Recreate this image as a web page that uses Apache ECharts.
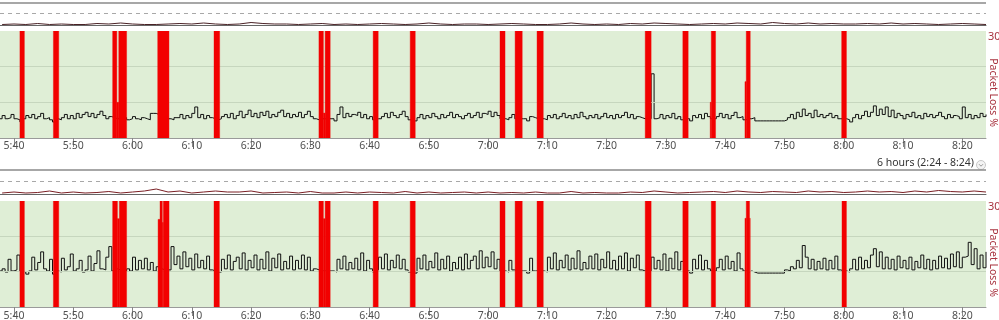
<!DOCTYPE html>
<html>
<head>
<meta charset="utf-8">
<script src="https://cdn.jsdelivr.net/npm/echarts@6/dist/echarts.min.js"></script>
<style>
html,body{margin:0;padding:0;background:#fff;}
#c{width:999px;height:320px;}
</style>
</head>
<body>
<div id="c"></div>
<script>
// ---- time axis (minutes since midnight) ----
const X_MIN = 337.64;   // left edge (~5:37.6)
const X_MAX = 504;      // 8:24
const tickMinutes = [340,350,360,370,380,390,400,410,420,430,440,450,460,470,480,490,500];
const rangeText = '6 hours (2:24 - 8:24)';
const lossAxisTitle = 'Packet Loss %';

// ---- latency samples (every 0.5 min from 5:37.5), arbitrary ms scale 0-100 ----
const LAT_START = 337.5;
const LAT_STEP = 0.5;
const latencyTop = [
 18,21,18,19,22,18,17,15,18,21,19,22,18,20,23,18,19,17,15,18,
 17,19,22,18,21,18,23,19,22,24,20,23,19,22,25,21,18,20,19,18,
 18,18,19,17,18,20,18,17,19,18,17,23,23,22,18,18,18,18,17,19,
 19,22,18,21,19,23,29,19,22,18,21,19,18,17,18,20,22,19,23,18,
 21,25,19,22,26,20,23,19,24,21,25,19,22,20,24,26,20,23,19,22,
 20,24,19,22,25,20,18,17,18,18,18,18,18,16,22,29,19,23,20,22,
 21,24,19,22,18,20,17,18,18,20,23,19,24,21,19,22,25,20,17,18,
 16,19,22,18,21,19,23,20,18,22,19,21,24,19,22,20,18,21,23,19,
 21,24,19,23,22,25,20,24,21,18,18,17,19,22,18,18,18,18,16,20,
 19,18,18,18,17,21,19,22,18,20,23,19,21,18,22,19,24,20,18,21,
 19,22,18,20,23,19,21,18,22,19,21,24,19,22,18,20,19,18,18,18,
 60,18,19,22,18,21,19,23,18,20,17,18,18,16,21,19,22,18,23,20,
 18,18,20,23,19,22,18,21,24,19,20,17,18,18,19,16,16,16,16,16,
 16,16,16,16,16,17,19,22,18,24,20,27,21,23,19,26,20,22,19,21,
 23,19,21,18,18,18,17,15,19,22,18,21,25,20,24,30,21,27,22,29,
 20,26,19,23,21,18,22,20,24,19,21,18,23,20,22,19,21,24,20,18,
 22,19,21,20,18,29,19,22,18,21,19,23,20,22
];
const latencyBottom = [
 34,36,33,45,34,35,49,34,33,31,34,47,35,42,52,36,34,45,31,34,
 33,46,35,38,50,34,36,44,33,35,48,34,41,53,36,35,47,57,34,36,
 35,34,34,36,34,47,35,44,36,46,35,42,34,38,36,35,35,35,57,40,
 48,36,52,38,46,35,50,37,44,36,48,35,34,36,33,45,36,49,35,43,
 47,36,51,35,44,37,49,35,45,36,52,34,46,37,50,35,43,36,48,35,
 44,36,49,35,47,34,36,35,34,34,34,34,34,33,45,36,48,35,42,36,
 46,35,51,34,44,36,33,35,47,36,50,35,44,37,49,36,45,35,33,34,
 32,46,36,49,35,43,37,51,35,45,36,48,34,42,36,47,35,50,36,44,
 48,36,53,37,47,38,52,36,45,34,34,33,44,35,34,34,34,34,32,46,
 34,34,34,34,33,47,36,51,35,44,37,49,35,46,36,53,35,42,36,48,
 36,50,35,45,37,52,36,44,35,48,36,51,34,46,37,49,35,34,34,34,
 47,36,44,35,50,34,46,36,52,35,43,34,34,32,45,36,49,35,44,36,
 34,34,37,45,35,48,36,43,34,51,36,34,33,34,33,32,32,32,32,32,
 32,32,32,32,32,35,34,38,36,44,37,58,47,36,45,35,43,36,46,35,
 44,36,48,35,34,34,33,36,45,35,47,36,44,37,49,55,38,52,36,47,
 36,45,35,48,37,44,36,47,35,43,37,49,36,45,35,44,36,48,37,46,
 36,50,38,52,37,47,48,61,40,55,36,49,37,52
];

// ---- packet loss intervals: [start minute, end minute, loss %] ----
const lossTop = [
 [341.0,341.75,100],[346.65,347.55,100],
 [356.65,357.35,100],[357.35,357.68,10],[357.68,359.0,100],
 [364.25,366.15,100],[373.75,374.7,100],
 [391.45,392.2,100],[392.2,392.5,7],[392.5,393.35,100],
 [400.6,401.45,100],[406.85,407.7,100],
 [422.0,422.85,100],[424.55,425.75,100],[428.25,429.3,100],
 [446.5,447.5,100],[452.85,453.75,100],
 [457.47,457.65,10],[457.65,458.37,100],
 [463.33,463.55,15.8],[463.55,464.22,100],
 [479.65,480.45,100]
];
const lossBottom = [
 [341.0,341.75,100],[346.65,347.55,100],
 [356.65,357.45,100],[357.45,357.78,25],[357.78,359.0,100],
 [364.31,364.64,24.8],[364.64,365.03,100],[365.03,365.2,23.9],[365.2,366.16,100],
 [373.75,374.65,100],
 [391.45,392.2,100],[392.2,392.5,25],[392.5,393.35,100],
 [400.6,401.45,100],[406.85,407.7,100],
 [422.0,422.85,100],[424.55,425.75,100],[428.25,429.3,100],
 [446.5,447.5,100],[452.85,453.75,100],
 [457.65,458.37,100],
 [463.33,463.55,25.1],[463.55,464.1,100],[464.1,464.22,25.1],
 [479.7,480.45,100]
];

// ---- overview strips (every 2 min from 5:38) ----
const STRIP_START = 338;
const STRIP_STEP = 2;
const stripTop = [
 0.5,1,0.5,1.5,0.5,1,0.5,0.5,1.5,1,2,1,0.5,0.5,1,1.5,1,2,1,0.5,
 1,2.5,1.5,1,1,0.5,1,1.5,0.5,1,0.5,1,1.5,1,0.5,1,2,1,0.5,1,
 1,0.5,1,1.5,1,0.5,0.5,1,2,1,0.5,1,0.5,1.5,1,2,1.5,1,0.5,1,
 1.5,1,2,1.5,1,2.5,1.5,1,2,1,1.5,1,1,1.5,1,2,1,1.5,1,0.5,
 1,1.5,1,0.5
];
const stripBottom = [
 1,2,1,1.5,3,1,2,1,1.5,2.5,1,2,3,5,2,3,1,2,3,2,
 2,3,1,1.5,2,1,2.5,1,1,2,1,2,1.5,1,2.5,1,2,1,1.5,2,
 1,2,1,1.5,1,2,1,1,2.5,1,1.5,1,1,2,1.5,3,2,1,1.5,2,
 2.5,1.5,3,2,1.5,2.5,2,1.5,3,2,2.5,1.5,2,3,2,2.5,1.5,3,2,3.5,
 2.5,2,3,2
];

function toPairs(start, step, arr){ return arr.map((v,i)=>[start+i*step, v]); }
function fmtTime(v){ const h=Math.floor(v/60), m=Math.round(v%60); return h+':'+(m<10?'0':'')+m; }

const FONT = 'Noto Sans';
const FS = 10.5;
const RED_TXT = '#a8323e';
const GREEN = '#dfeed6';

function stripXAxis(g){
  return {type:'value', gridIndex:g, min:X_MIN, max:X_MAX,
    axisLine:{show:true, onZero:false, lineStyle:{color:'#666', width:1}},
    axisTick:{show:false}, axisLabel:{show:false}, splitLine:{show:false}};
}
function mainXAxis(g, margin){
  return {type:'value', gridIndex:g, min:X_MIN, max:X_MAX,
    axisLine:{show:true, onZero:false, lineStyle:{color:'#9a9a9a', width:1}},
    axisTick:{show:true, length:9, customValues:tickMinutes, lineStyle:{color:'#888'}},
    axisLabel:{show:true, customValues:tickMinutes, formatter:fmtTime, margin:margin,
      color:'#505050', fontFamily:FONT, fontSize:FS},
    splitLine:{show:false}};
}
function lossYAxis(g){
  return {type:'value', gridIndex:g, position:'right', min:0, max:30, interval:10,
    axisLine:{show:false}, axisTick:{show:false}, splitLine:{show:false},
    axisLabel:{show:true, margin:2, verticalAlign:'top', color:RED_TXT, fontFamily:FONT, fontSize:FS+0.5,
      formatter:v=> v===30 ? '30' : ''}};
}
function hiddenY(g,min,max){ return {type:'value', gridIndex:g, min:min, max:max, show:false, splitLine:{show:false}}; }

function lossSeries(data, xi, yi){
  return {type:'custom', xAxisIndex:xi, yAxisIndex:yi, data:data, clip:true, z:5,
    encode:{x:[0,1], y:2},
    renderItem:function(params, api){
      const a = api.coord([api.value(0), Math.min(api.value(2),30)]);
      const b = api.coord([api.value(1), 0]);
      return {type:'rect', shape:{x:a[0], y:a[1], width:b[0]-a[0], height:b[1]-a[1]},
        style:{fill:'#f20000', stroke:'#f20000', lineWidth:0.4}};
    },
    markLine:{silent:true, symbol:['none','none'], label:{show:false}, animation:false,
      lineStyle:{color:'#c6d6be', width:1, type:'solid'},
      data:[{yAxis:10},{yAxis:20}]}
  };
}
function latencySeries(data, xi, yi){
  return {type:'line', xAxisIndex:xi, yAxisIndex:yi, step:'end', symbol:'none', z:3,
    data:toPairs(LAT_START, LAT_STEP, data), lineStyle:{color:'#111', width:1}};
}
function stripSeries(data, xi, yi, dashY, topY, color){
  return {type:'line', xAxisIndex:xi, yAxisIndex:yi, symbol:'none', z:3,
    data:toPairs(STRIP_START, STRIP_STEP, data), lineStyle:{color:color, width:1},
    markLine:{silent:true, symbol:['none','none'], label:{show:false}, animation:false,
      data:[{yAxis:dashY, lineStyle:{color:'#a8a8a8', type:[4,4], width:1}},
            {yAxis:topY, lineStyle:{color:'#8a8a8a', type:'solid', width:1.5}}]}};
}
function vTitle(cy){
  return {type:'text', x:993, y:cy, rotation:-Math.PI/2,
    style:{text:lossAxisTitle, fill:RED_TXT, font:FS+'px "Noto Sans"', textAlign:'center', textVerticalAlign:'middle'}};
}

const gridBase = {left:0, right:13, containLabel:false, outerBoundsMode:'none'};
const chart = echarts.init(document.getElementById('c'), null, {renderer:'canvas'});
chart.setOption({
  animation:false,
  backgroundColor:'#ffffff',
  grid:[
    Object.assign({top:3, height:22, show:false}, gridBase),
    Object.assign({top:31, height:107, show:true, backgroundColor:GREEN, borderWidth:0}, gridBase),
    Object.assign({top:170, height:24, show:false}, gridBase),
    Object.assign({top:201, height:106, show:true, backgroundColor:GREEN, borderWidth:0}, gridBase)
  ],
  xAxis:[ stripXAxis(0), mainXAxis(1,3), stripXAxis(2), mainXAxis(3,4) ],
  yAxis:[
    hiddenY(0,0,22),
    hiddenY(1,0,100),
    lossYAxis(1),
    hiddenY(2,0,24),
    hiddenY(3,0,100),
    lossYAxis(3)
  ],
  series:[
    stripSeries(stripTop, 0, 0, 12, 22, '#4a2226'),
    latencySeries(latencyTop, 1, 1),
    lossSeries(lossTop, 1, 2),
    stripSeries(stripBottom, 2, 3, 13, 24, '#7a1f24'),
    latencySeries(latencyBottom, 3, 4),
    lossSeries(lossBottom, 3, 5)
  ],
  graphic:[
    vTitle(92.5),
    vTitle(262.5),
    {type:'text', right:25, top:158, style:{text:rangeText, fill:'#333', font:FS+'px "Noto Sans"', textAlign:'right'}},
    {type:'group', left:976, top:160, children:[
      {type:'circle', shape:{cx:5, cy:5, r:4.5}, style:{fill:'#f4f4f4', stroke:'#c8c8c8', lineWidth:1}},
      {type:'polyline', shape:{points:[[3,4.2],[5,6.2],[7,4.2]]}, style:{stroke:'#999', lineWidth:1, fill:null}}
    ]}
  ]
});
</script>
</body>
</html>
